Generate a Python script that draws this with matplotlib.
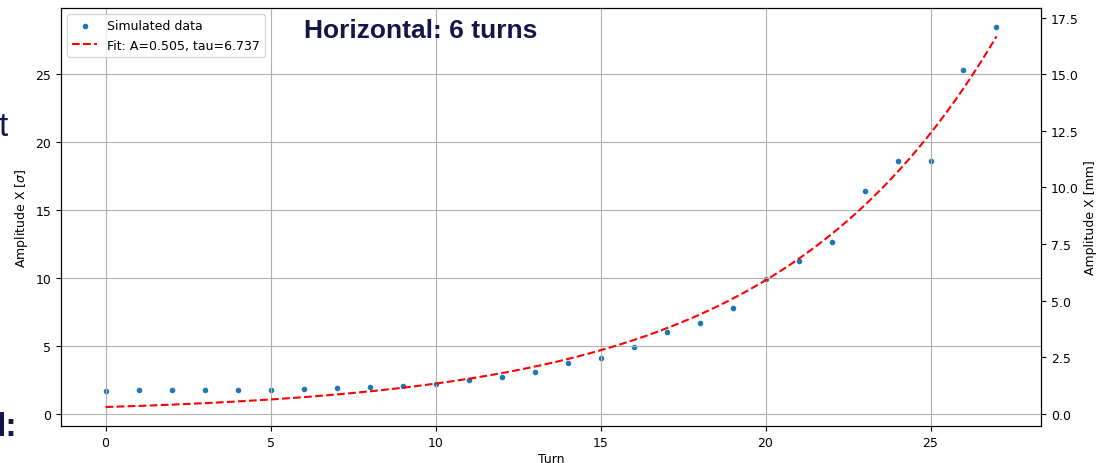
import numpy as np
import matplotlib.pyplot as plt

# simulated amplitude per turn, in units of beam sigma
turns = np.arange(28)
amp_sigma = [1.70, 1.77, 1.77, 1.77, 1.77, 1.77, 1.84, 1.89, 1.96, 2.04,
             2.21, 2.51, 2.68, 3.10, 3.71, 4.11, 4.89, 6.05, 6.71, 7.77,
             9.93, 11.23, 12.66, 16.39, 18.58, 18.58, 25.27, 28.47]

# exponential fit A*exp(t/tau)
fit_A = 0.505
fit_tau = 6.737
sigma_to_mm = 0.6

plt.rcParams["font.size"] = 9

t_fit = np.linspace(turns[0], turns[-1], 300)
amp_fit = fit_A * np.exp(t_fit / fit_tau)

fig = plt.figure(figsize=(11, 4.64), dpi=100)
ax = fig.add_axes([0.0555, 0.0797, 0.8909, 0.9009])

ax.scatter(turns, amp_sigma, s=9, color="tab:blue", label="Simulated data")
ax.plot(t_fit, amp_fit, "r--", label=f"Fit: A={fit_A:.3f}, tau={fit_tau:.3f}")
ax.set_xlabel("Turn", labelpad=2)
ax.set_ylabel(r"Amplitude X [$\sigma$]")
ax.grid(True)
ax.legend(loc="upper left")

ax2 = ax.twinx()
lo, hi = ax.get_ylim()
ax2.set_ylim(lo * sigma_to_mm, hi * sigma_to_mm)
ax2.set_ylabel("Amplitude X [mm]")

navy = "#14164a"
fig.text(421 / 1100, 1 - 31 / 464, "Horizontal: 6 turns", ha="center", va="center",
         fontsize=19, fontweight="bold", color=navy, family="Liberation Sans")
fig.text(-0.001, 1 - 128 / 464, "t", ha="left", va="center",
         fontsize=24, color=navy, family="Liberation Sans")
fig.text(-0.003, 1 - 428 / 464, "l:", ha="left", va="center",
         fontsize=24, fontweight="bold", color=navy, family="Liberation Sans")

fig.savefig("out.png", dpi=100)
